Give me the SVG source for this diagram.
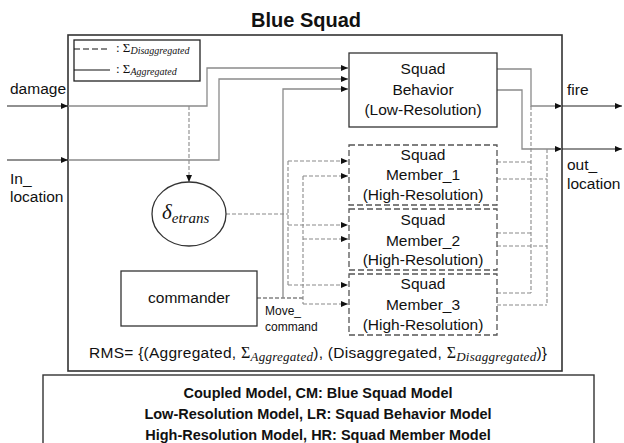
<svg xmlns="http://www.w3.org/2000/svg" width="624" height="443" viewBox="0 0 624 443">
  <style>
    .sans { font-family: "Liberation Sans", Arial, sans-serif; fill: #111; }
    .math { font-family: "Liberation Serif", "DejaVu Serif", serif; fill: #111; }
    .it { font-style: italic; }
    .box { fill: #fff; stroke: #333; stroke-width: 1.3; }
    .hr { fill: #fff; stroke: #555; stroke-width: 1.3; stroke-dasharray: 6 3; }
    .agg { fill: none; stroke: #8a8a8a; stroke-width: 1.3; }
    .dis { fill: none; stroke: #8a8a8a; stroke-width: 1.1; stroke-dasharray: 4 2; }
    .cmd { fill: none; stroke: #444; stroke-width: 1.2; stroke-dasharray: 4 2; }
    .ext { fill: none; stroke: #222; stroke-width: 1.1; }
    .lbl { font-size: 15.5px; }
    .node-t { font-size: 15.5px; text-anchor: middle; }
  </style>
  <defs>
    <marker id="arr" markerUnits="userSpaceOnUse" markerWidth="7" markerHeight="6" refX="7" refY="3" orient="auto">
      <path d="M0,0 L7,3 L0,6 Z" fill="#111"/>
    </marker>
  </defs>

  <!-- title -->
  <text class="sans" x="306" y="27" font-size="20" font-weight="bold" text-anchor="middle">Blue Squad</text>

  <!-- coupled model boundary -->
  <g id="blue-squad">
    <rect x="68" y="35" width="494" height="336" fill="#fff" stroke="#333" stroke-width="1.6"/>
  </g>

  <!-- legend -->
  <g id="legend">
    <rect x="74" y="40" width="126" height="41" fill="#fff" stroke="#222" stroke-width="1.3"/>
    <line x1="74" y1="49" x2="110" y2="49" stroke="#111" stroke-width="1.2" stroke-dasharray="6 3"/>
    <line x1="74" y1="70" x2="110" y2="70" stroke="#111" stroke-width="1.2"/>
    <text class="math" x="116" y="52" font-size="13">: Σ<tspan class="it" font-size="10" dy="2">Disaggregated</tspan></text>
    <text class="math" x="116" y="73" font-size="13">: Σ<tspan class="it" font-size="10" dy="2">Aggregated</tspan></text>
  </g>

  <!-- port labels -->
  <text class="sans lbl" x="10" y="94">damage</text>
  <text class="sans lbl" x="10" y="184">In_</text>
  <text class="sans lbl" x="10" y="202">location</text>
  <text class="sans lbl" x="567" y="95">fire</text>
  <text class="sans lbl" x="567" y="170">out_</text>
  <text class="sans lbl" x="567" y="189">location</text>

  <!-- connectors -->
  <g id="connectors">
    <!-- external ports -->
    <path class="ext" d="M7,106 H68" marker-end="url(#arr)"/>
    <path class="ext" d="M7,160 H68" marker-end="url(#arr)"/>
    <path class="ext" d="M562,106 H622" marker-end="url(#arr)"/>
    <path class="ext" d="M562,149 H622" marker-end="url(#arr)"/>

    <!-- disaggregated couplings -->
    <path class="dis" d="M189,106 V182" marker-end="url(#arr)"/>
    <path class="dis" d="M226,214 H288"/>
    <path class="dis" d="M288,161 V285"/>
    <path class="dis" d="M288,161 H348" marker-end="url(#arr)"/>
    <path class="dis" d="M288,225 H348" marker-end="url(#arr)"/>
    <path class="dis" d="M288,285 H348" marker-end="url(#arr)"/>
    <path class="cmd" d="M257,298 H303"/>
    <path class="dis" d="M303,176 V304"/>
    <path class="dis" d="M303,176 H348" marker-end="url(#arr)"/>
    <path class="dis" d="M303,239 H348" marker-end="url(#arr)"/>
    <path class="dis" d="M303,304 H348" marker-end="url(#arr)"/>
    <path class="dis" d="M497,162 H531 M497,233 H531 M497,293 H531 M531,106 V293"/>
    <path class="dis" d="M497,179 H547 M497,246 H547 M497,305 H547 M547,149 V305"/>

    <!-- aggregated couplings -->
    <path class="agg" d="M68,106 H207 V68 H348" marker-end="url(#arr)"/>
    <path class="agg" d="M68,160 H219 V79 H348" marker-end="url(#arr)"/>
    <path class="agg" d="M283,298 V89 H348" marker-end="url(#arr)"/>
    <path class="agg" d="M497,69 H531 V106 H562" marker-end="url(#arr)"/>
    <path class="agg" d="M497,90 H522 V149 H562" marker-end="url(#arr)"/>
  </g>

  <!-- low-resolution model -->
  <g id="squad-behavior">
    <rect class="box" x="349" y="53" width="148" height="74"/>
    <text class="sans node-t" x="423" y="74">Squad</text>
    <text class="sans node-t" x="423" y="95">Behavior</text>
    <text class="sans node-t" x="423" y="115">(Low-Resolution)</text>
  </g>

  <!-- high-resolution models -->
  <g id="squad-member-1">
    <rect class="hr" x="349" y="145" width="148" height="60"/>
    <text class="sans node-t" x="423" y="160">Squad</text>
    <text class="sans node-t" x="423" y="180">Member_1</text>
    <text class="sans node-t" x="423" y="200">(High-Resolution)</text>
  </g>
  <g id="squad-member-2">
    <rect class="hr" x="349" y="209" width="148" height="61"/>
    <text class="sans node-t" x="423" y="225">Squad</text>
    <text class="sans node-t" x="423" y="246">Member_2</text>
    <text class="sans node-t" x="423" y="265">(High-Resolution)</text>
  </g>
  <g id="squad-member-3">
    <rect class="hr" x="349" y="274" width="148" height="61"/>
    <text class="sans node-t" x="423" y="289">Squad</text>
    <text class="sans node-t" x="423" y="310">Member_3</text>
    <text class="sans node-t" x="423" y="330">(High-Resolution)</text>
  </g>

  <!-- transition function -->
  <g id="etrans">
    <ellipse cx="189" cy="214" rx="37" ry="32" fill="#fff" stroke="#333" stroke-width="1.3"/>
    <text class="math it" x="162" y="219" font-size="21">δ<tspan font-size="15" dy="4">etrans</tspan></text>
  </g>

  <!-- commander -->
  <g id="commander">
    <rect class="box" x="121" y="271" width="136" height="55"/>
    <text class="sans node-t" x="189" y="303">commander</text>
  </g>
  <text class="sans" x="265" y="315" font-size="12">Move_</text>
  <text class="sans" x="265" y="331" font-size="12">command</text>

  <!-- resolution mapping set -->
  <text class="sans" x="89" y="358" font-size="15.5" textLength="458" lengthAdjust="spacing">RMS= {(Aggregated, <tspan class="math" font-size="16">Σ</tspan><tspan class="math it" font-size="13" dy="3">Aggregated</tspan><tspan dy="-3">), (Disaggregated, </tspan><tspan class="math" font-size="16">Σ</tspan><tspan class="math it" font-size="13" dy="3">Disaggregated</tspan><tspan dy="-3">)}</tspan></text>

  <!-- model summary -->
  <g id="summary">
    <rect x="43" y="375" width="551" height="80" fill="#fff" stroke="#333" stroke-width="1.4"/>
    <text class="sans" x="318" y="398" font-size="14.5" font-weight="bold" text-anchor="middle">Coupled Model, CM: Blue Squad Model</text>
    <text class="sans" x="318" y="419" font-size="14.5" font-weight="bold" text-anchor="middle">Low-Resolution Model, LR: Squad Behavior Model</text>
    <text class="sans" x="318" y="440" font-size="14.5" font-weight="bold" text-anchor="middle">High-Resolution Model, HR: Squad Member Model</text>
  </g>
</svg>
